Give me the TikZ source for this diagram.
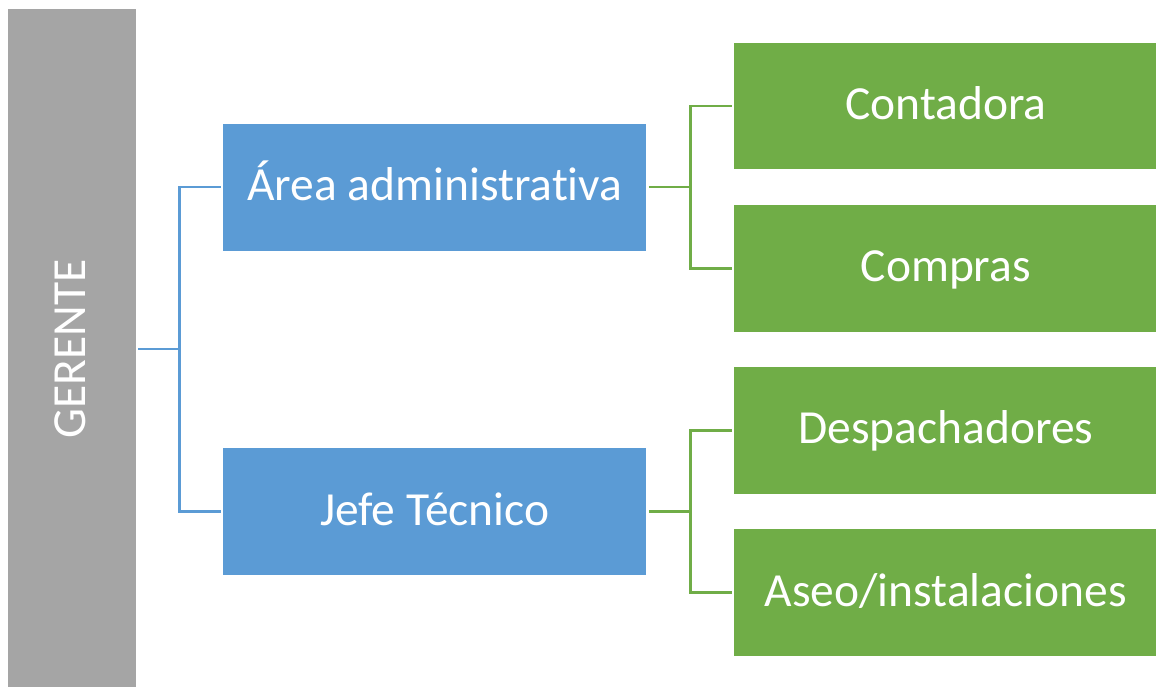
\documentclass[tikz,border=0pt]{standalone}
\usepackage{fontspec}
\setmainfont[Ligatures={NoCommon}]{Carlito}
\definecolor{ggray}{HTML}{A5A5A5}
\definecolor{gblue}{HTML}{5B9BD5}
\definecolor{ggreen}{HTML}{70AD47}
\tikzset{
  box/.style={rectangle, inner sep=0pt, outer sep=2.6pt, text=white,
    font=\fontsize{47.5}{50}\selectfont, text height=27pt, text depth=0pt},
  bluebox/.style={box, fill=gblue, minimum width=423pt, minimum height=127pt},
  greenbox/.style={box, fill=ggreen, minimum width=423pt, minimum height=126.7pt},
  graybox/.style={box, fill=ggray, minimum width=679.7pt, minimum height=127.4pt, rotate=90},
  bluelink/.style={draw=gblue, line width=2.6pt},
  greenlink/.style={draw=ggreen, line width=2.6pt}
}
\begin{document}
\begin{tikzpicture}[x=1pt,y=-1pt]
\useasboundingbox (0,0) rectangle (1156,686);
\begin{scope}
\clip (0,0) rectangle (1156,686);
\node[graybox] (g) at (72,349.15) {GERENTE};
\node[bluebox] (b1) at (434.8,187) {Área administrativa};
\node[bluebox] (b2) at (434.8,511.5) {Jefe Técnico};
\node[greenbox] (c1) at (945.8,106) {Contadora};
\node[greenbox] (c2) at (945.8,268.3) {Compras};
\node[greenbox] (c3) at (945.8,430.3) {Despachadores};
\node[greenbox] (c4) at (945.8,592.7) {Aseo/instalaciones};
\end{scope}
\coordinate (j1) at (179.5,349.15);
\coordinate (j2) at (690.7,187);
\coordinate (j3) at (690.7,511.5);
\draw[bluelink] (g.south) -- (j1);
\draw[bluelink] (j1) |- (b1.west);
\draw[bluelink] (j1) |- (b2.west);
\draw[greenlink] (b1.east) -- (j2);
\draw[greenlink] (j2) |- (c1.west);
\draw[greenlink] (j2) |- (c2.west);
\draw[greenlink] (b2.east) -- (j3);
\draw[greenlink] (j3) |- (c3.west);
\draw[greenlink] (j3) |- (c4.west);
\end{tikzpicture}
\end{document}
